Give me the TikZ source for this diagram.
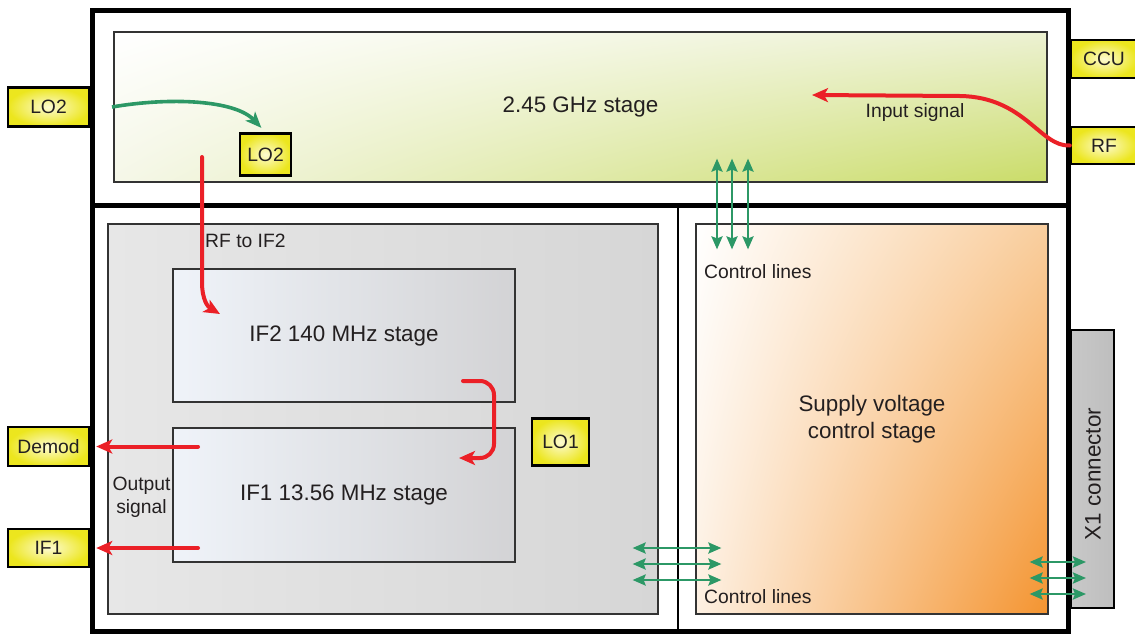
\documentclass[tikz,border=0pt]{standalone}
\usepackage{fontspec}
\setmainfont{Liberation Sans}
\usepackage{xcolor}
\usepackage{tikz}
\usetikzlibrary{arrows.meta,shadings}
\definecolor{sigred}{RGB}{235,32,39}
\definecolor{ctlgreen}{RGB}{44,152,102}
\definecolor{portyellow}{RGB}{236,230,30}
\definecolor{portlight}{RGB}{253,251,210}
\definecolor{greenhi}{RGB}{236,241,210}
\definecolor{greenlo}{RGB}{202,220,104}
\definecolor{greenlow}{RGB}{245,247,232}
\definecolor{orangehi}{RGB}{249,206,158}
\definecolor{orangelo}{RGB}{244,148,48}
\definecolor{orangelow}{RGB}{253,240,226}
\definecolor{panelleft}{RGB}{231,231,231}
\definecolor{panelright}{RGB}{214,214,214}
\definecolor{ifleft}{RGB}{239,243,249}
\definecolor{ifright}{RGB}{211,211,213}
\definecolor{xoneside}{RGB}{200,200,200}
\definecolor{xonemid}{RGB}{236,236,236}
\definecolor{textgray}{RGB}{35,31,32}

\begin{document}
\begin{tikzpicture}[x=1pt,y=-1pt,
font=\fontsize{22.4}{27.5}\selectfont,text=textgray,
panel/.style={draw=black!80,line width=1.2pt,inner sep=0pt},
port/.style={draw=black,line width=2.5pt,inner sep=0pt,inner color=portlight,
outer color=portyellow,font=\fontsize{19.3}{22}\selectfont},
small/.style={inner sep=0pt,font=\fontsize{19.3}{23}\selectfont},
sig/.style={-{Stealth[length=16pt,width=14pt,inset=4pt]},line width=4pt,
line cap=round,draw=sigred},
lo/.style={-{Stealth[length=16pt,width=13pt,inset=4pt]},line width=3.6pt,draw=ctlgreen},
ctl/.style={{Stealth[length=13pt,width=11pt,inset=2pt]}-{Stealth[length=13pt,width=11pt,inset=2pt]},
line width=2.5pt,draw=ctlgreen}]
\useasboundingbox (0,0) rectangle (1135,635);
% housing
\draw[line width=5pt] (92.5,10) rectangle (1068,631);
\draw[line width=5pt] (92.5,205) -- (1068,205);
\draw[line width=1.5pt] (678,205) -- (678,631);
% stages
\node[panel,minimum width=933pt,minimum height=150pt,upper left=white,lower left=greenlow,
upper right=greenhi,lower right=greenlo] (rfstage) at (580.5,107) {2.45 GHz stage};
\node[panel,minimum width=550pt,minimum height=390pt,left color=panelleft,
right color=panelright] (ifpanel) at (383,419) {};
\node[panel,minimum width=342pt,minimum height=133pt,left color=ifleft,
right color=ifright] (if2) at (344,335.5) {IF2 140 MHz stage};
\node[panel,minimum width=342pt,minimum height=134pt,left color=ifleft,
right color=ifright] (if1) at (344,495) {IF1 13.56 MHz stage};
\node[panel,minimum width=352pt,minimum height=390pt,upper left=white,lower left=orangelow,
upper right=orangehi,lower right=orangelo,align=center] (supply) at (872,419)
{Supply voltage\\control stage};
\node[draw=black,line width=2pt,minimum width=43pt,minimum height=278pt,inner sep=0pt,
left color=xoneside,middle color=xonemid,right color=xoneside!95!black] (xone) at (1092.5,469) {};
\node[rotate=90,inner sep=0pt] (xonelabel) at (1093,474) {X1 connector};
% ports
\node[port,minimum width=81pt,minimum height=39pt] (lotwoin) at (48.5,107) {LO2};
\node[port,minimum width=51pt,minimum height=42pt] (lotwo) at (265.5,154.5) {LO2};
\node[port,minimum width=66pt,minimum height=38pt] (ccu) at (1104,59) {CCU};
\node[port,minimum width=66pt,minimum height=37pt] (rf) at (1104,145.5) {RF};
\node[port,minimum width=81pt,minimum height=39pt] (demod) at (48.5,446.5) {Demod};
\node[port,minimum width=81pt,minimum height=38pt] (ifout) at (48.5,548) {IF1};
\node[port,minimum width=57pt,minimum height=47pt] (loone) at (560.5,442) {LO1};
% labels
\node[small,anchor=west] (rftoif) at (205,241) {RF to IF2};
\node[small] (insig) at (915,113) {Input signal};
\node[small,align=center] (outsig) at (141.5,497) {Output\\signal};
\node[small,anchor=west] (ctltop) at (704,272) {Control lines};
\node[small,anchor=west] (ctlbot) at (704,597) {Control lines};
% signal paths
\coordinate (lotwosrc) at (112,107);
\coordinate (rfsrc) at (202,157);
\coordinate (if2in) at (220,314);
\coordinate (insigtip) at (812,95);
\coordinate (loopsrc) at (463,381);
\coordinate (loopdst) at (459,458);
\coordinate (demsrc) at (198,446.5);
\coordinate (ifsrc) at (198,548);
\draw[lo,shorten >=6pt] (lotwosrc) .. controls (170,97) and (235,100) .. (lotwo.north);
\draw[sig] (rfsrc) -- (202,282) .. controls (202,300) and (208,307) .. (if2in);
\draw[sig] (rf.west) .. controls (1040,147) and (1025,97) .. (960,96) -- (insigtip);
\draw[sig,rounded corners=14pt] (loopsrc) -| (494,458) -- (loopdst);
\draw[sig,shorten >=6pt] (demsrc) -- (demod.east);
\draw[sig,shorten >=6pt] (ifsrc) -- (ifout.east);
% control lines
\draw[ctl,shorten <=-24pt,shorten >=-26pt] (rfstage.south -| 717,0) -- (supply.north -| 717,0);
\draw[ctl,shorten <=-24pt,shorten >=-26pt] (rfstage.south -| 732,0) -- (supply.north -| 732,0);
\draw[ctl,shorten <=-24pt,shorten >=-26pt] (rfstage.south -| 748,0) -- (supply.north -| 748,0);
\draw[ctl,shorten <=-26pt,shorten >=-26pt] (ifpanel.east |- 0,548) -- (supply.west |- 0,548);
\draw[ctl,shorten <=-26pt,shorten >=-26pt] (ifpanel.east |- 0,564) -- (supply.west |- 0,564);
\draw[ctl,shorten <=-26pt,shorten >=-26pt] (ifpanel.east |- 0,580) -- (supply.west |- 0,580);
\draw[ctl,shorten <=-19pt,shorten >=-16pt] (supply.east |- 0,562) -- (xone.west |- 0,562);
\draw[ctl,shorten <=-19pt,shorten >=-16pt] (supply.east |- 0,578) -- (xone.west |- 0,578);
\draw[ctl,shorten <=-19pt,shorten >=-16pt] (supply.east |- 0,594) -- (xone.west |- 0,594);
\end{tikzpicture}
\end{document}
